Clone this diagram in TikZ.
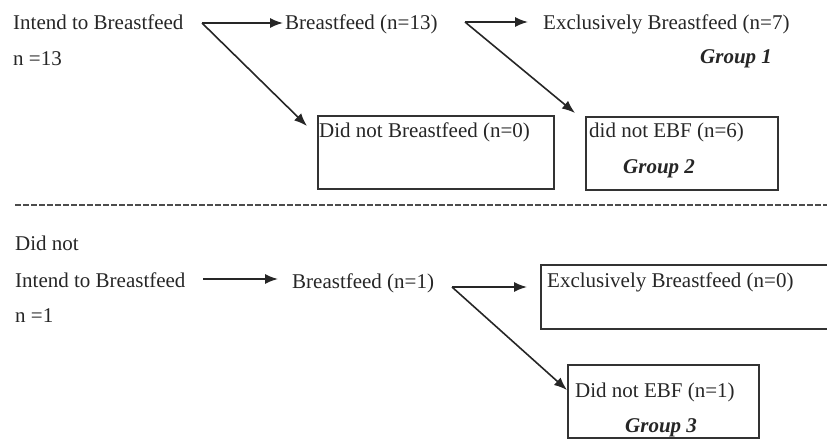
\documentclass[tikz,border=0pt]{standalone}
\usepackage{fontspec}
\setmainfont{Liberation Serif}
\usetikzlibrary{arrows.meta}
\tikzset{
    txt/.style={anchor=base west, inner sep=0pt, text=black!85},
    grp/.style={txt, font=\fontsize{21}{25}\selectfont\bfseries\itshape},
    box/.style={draw=black!80, line width=1.8pt, anchor=north west, inner sep=0pt},
    arr/.style={draw=black!85, line width=1.6pt, -{Latex[length=13pt,width=10pt]}}
}
\begin{document}
\begin{tikzpicture}[x=1pt, y=-1pt, font=\fontsize{21}{25}\selectfont]
    \useasboundingbox (0,0) rectangle (827,439);
    % top half
    \node[txt] (int1) at (13, 29) {Intend to Breastfeed};
    \node[txt] (n13) at (13, 65) {n =13};
    \node[txt] (bf13) at (285, 29) {Breastfeed (n=13)};
    \node[txt] (ebf7) at (543, 29) {Exclusively Breastfeed (n=7)};
    \node[grp] (g1) at (700, 63) {Group 1};
    \node[box, minimum width=236pt, minimum height=73pt] (nobf0) at (317, 115) {};
    \node[txt] (nobf0t) at (319, 137) {Did not Breastfeed (n=0)};
    \node[box, minimum width=192pt, minimum height=73pt] (noebf6) at (585, 116) {};
    \node[txt] (noebf6t) at (589, 137) {did not EBF (n=6)};
    \node[grp] (g2) at (623, 173) {Group 2};
    \coordinate (s1) at (202, 23);
    \coordinate (s2) at (465, 22);
    \draw[arr] (s1) -- (s1 -| bf13.west) [shorten >=2pt];
    \draw[arr] (s1) -- ([xshift=-10pt, yshift=-11pt]nobf0.north west);
    \draw[arr] (s2) -- (s2 -| ebf7.west) [shorten >=15pt];
    \draw[arr] (s2) -- ([xshift=-10pt, yshift=3pt]noebf6.north west);
    % divider
    \draw[black!70, line width=1.6pt, dash pattern=on 6pt off 2pt] (15, 205) -- (827, 205);
    % bottom half
    \node[txt] (dn) at (15, 250) {Did not};
    \node[txt] (int2) at (15, 287) {Intend to Breastfeed};
    \node[txt] (n1) at (15, 322) {n =1};
    \node[txt] (bf1) at (292, 288) {Breastfeed (n=1)};
    \node[box, minimum width=300pt, minimum height=64pt] (ebf0) at (540, 264) {};
    \node[txt] (ebf0t) at (547, 287) {Exclusively Breastfeed (n=0)};
    \node[box, minimum width=191pt, minimum height=73pt] (noebf1) at (567, 364) {};
    \node[txt] (noebf1t) at (575, 397) {Did not EBF (n=1)};
    \node[grp] (g3) at (625, 432) {Group 3};
    \coordinate (s3) at (203, 279);
    \coordinate (s4) at (452, 287);
    \draw[arr] (s3) -- (s3 -| bf1.west) [shorten >=14pt];
    \draw[arr] (s4) -- (s4 -| ebf0.west) [shorten >=13pt];
    \draw[arr] (s4) -- ([yshift=-26pt]noebf1.north west);
\end{tikzpicture}
\end{document}
